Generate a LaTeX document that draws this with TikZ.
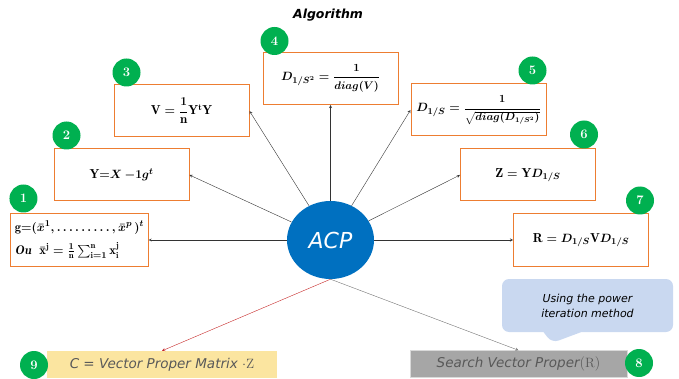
\documentclass[tikz,border=0pt]{standalone}
\usepackage{fontspec}
\usepackage{amsmath}
\usepackage{amssymb}
\usetikzlibrary{shapes, shapes.callouts, arrows}
\newfontfamily\handfont{DejaVu Sans}
\newcommand{\smallfrac}[2]{\dfrac{\text{\fontsize{10.5}{12}\selectfont$#1$}}{\text{\fontsize{10.5}{12}\selectfont$#2$}}}
\definecolor{boxorange}{HTML}{ED7D31}
\definecolor{badgegreen}{HTML}{00B050}
\definecolor{acpblue}{HTML}{0070C0}
\definecolor{noteyellow}{HTML}{FBE5A0}
\definecolor{searchgray}{HTML}{A6A6A6}
\definecolor{textgray}{HTML}{595959}
\definecolor{noteblue}{HTML}{C9D8F0}
\definecolor{arrowred}{HTML}{C62828}

\begin{document}
\begin{tikzpicture}[x=1pt, y=-1pt]
        \tikzstyle{formbox} = [rectangle, minimum width = 135pt, minimum height = 52pt, text centered, draw=boxorange, line width=1pt, fill=white, font=\fontsize{13}{15}\selectfont\boldmath]
        \tikzstyle{badge} = [circle, minimum size = 28pt, inner sep=0pt, fill=badgegreen, text=white, font=\fontsize{13}{15}\selectfont\bfseries]
        \tikzstyle{acpblob} = [ellipse, minimum width = 87pt, minimum height = 78pt, fill=acpblue, text=white, font=\handfont\itshape\fontsize{22}{26}\selectfont]
        \tikzstyle{resultbar} = [rectangle, minimum height = 27pt, text=textgray, font=\handfont\itshape\fontsize{13.5}{16}\selectfont]
        \tikzstyle{singlearrow} = [thin, ->, >=stealth, draw=black!80]
        \useasboundingbox (0,0) rectangle (679,379);

        \node (Title) at (328,15) [font=\handfont\bfseries\itshape\fontsize{12.5}{15}\selectfont]{Algorithm};
        \node (ACP) [acpblob] at (330.5,240){ACP};

        \node (Gbar) [formbox, align=left, inner xsep=4pt, font=\fontsize{12.5}{14}\selectfont\boldmath] at (79.5,240){$\mathrm{g}{=}(\bar{x}{}^{1},\ldots\ldots\ldots,\bar{x}{}^{p}\,)^{t}$ \\[7pt] $\mathit{Ou}\ \ \bar{\mathrm{x}}{}^{\mathrm{j}}=\frac{1}{\mathrm{n}}\sum_{\mathrm{i}=1}^{\mathrm{n}}\mathrm{x}_{\mathrm{i}}^{\mathrm{j}}$};
        \node (Ycen) [formbox] at (121.5,175){$\mathrm{Y}{=}X\,{-}\mathbf{1}g^{t}$};
        \node (Vcov) [formbox] at (181.5,111){$\mathrm{V}=\dfrac{1}{\mathrm{n}}\mathrm{Y}^{\mathrm{t}}\mathrm{Y}$};
        \node (Dsq) [formbox] at (330.5,78.5){$D_{1/S^{2}}=\smallfrac{1}{diag(V)}$};
        \node (Dinv) [formbox] at (478.5,110){$D_{1/S}=\smallfrac{1}{\sqrt{diag(D_{1/S^{2}})}}$};
        \node (Zmat) [formbox] at (528,175){$\mathrm{Z}=\mathrm{Y}D_{1/S}$};
        \node (Rmat) [formbox] at (581,240){$\mathrm{R}=D_{1/S}\mathrm{V}D_{1/S}$};

        \node (Cmat) [resultbar, minimum width = 230pt, fill=noteyellow] at (162,364.5){C = Vector Proper Matrix $\cdot\mathrm{Z}$};
        \node (Search) [resultbar, minimum width = 217pt, fill=searchgray, draw=black!15] at (518.5,364){Search Vector Proper$(\mathrm{R})$};
        \node (Note) [rectangle callout, rounded corners=7pt, fill=noteblue, minimum width = 171pt, minimum height = 53pt, callout absolute pointer={(552,343)}, callout pointer width=38pt, align=center, font=\handfont\itshape\fontsize{11}{15}\selectfont] at (587.5,305.5){Using the power \\ iteration method};

        % numbered badges
        \node (n1) [badge] at ([xshift=13pt,yshift=15pt]Gbar.north west){1};
        \node (n2) [badge] at ([xshift=13pt,yshift=13pt]Ycen.north west){2};
        \node (n3) [badge] at ([xshift=13pt,yshift=12pt]Vcov.north west){3};
        \node (n4) [badge] at ([xshift=12pt,yshift=11pt]Dsq.north west){4};
        \node (n5) [badge] at ([xshift=-14pt,yshift=13pt]Dinv.north east){5};
        \node (n6) [badge] at ([xshift=-12pt,yshift=14pt]Zmat.north east){6};
        \node (n7) [badge] at ([xshift=-9pt,yshift=13pt]Rmat.north east){7};
        \node (n8) [badge] at (639,363){8};
        \node (n9) [badge] at (34,365){9};

        \draw[singlearrow] (ACP) -- (Gbar.east);
        \draw[singlearrow] (ACP) -- (Ycen.east);
        \draw[singlearrow] (ACP) -- (Vcov.east);
        \draw[singlearrow] (ACP) -- (Dsq.south);
        \draw[singlearrow] (ACP) -- (Dinv.west);
        \draw[singlearrow] (ACP) -- (Zmat.west);
        \draw[singlearrow] (ACP) -- (Rmat.west);
        \draw[singlearrow, draw=arrowred] (ACP.south) -- (Cmat.north);
        \draw[singlearrow, draw=black!55] (ACP.south) -- (Search.north);

    \end{tikzpicture}
\end{document}
